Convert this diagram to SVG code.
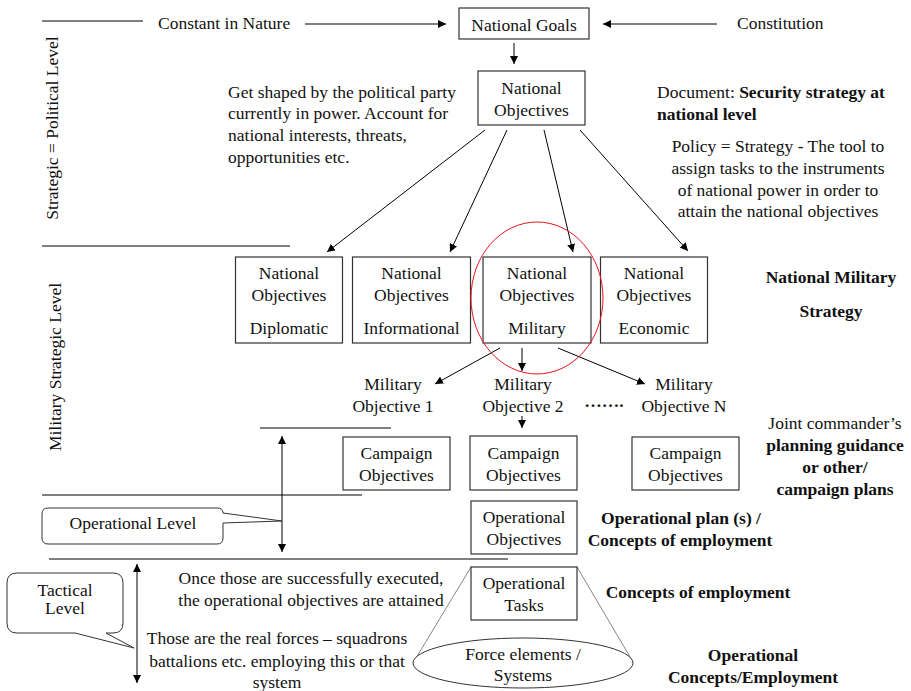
<svg xmlns="http://www.w3.org/2000/svg" width="911" height="691" viewBox="0 0 911 691">
<defs>
<marker id="ah" viewBox="0 0 10 10" refX="10" refY="5" markerWidth="8" markerHeight="8" markerUnits="userSpaceOnUse" orient="auto-start-reverse">
<path d="M0,0 L10,5 L0,10 Z" fill="#000"/>
</marker>
<style>
text{font-family:"Liberation Serif","Times New Roman",serif;font-size:17.5px;fill:#111}
.c{text-anchor:middle}
.b{font-weight:bold}
.box{fill:#fff;stroke:#333;stroke-width:1.2}
.ln{stroke:#000;stroke-width:1;fill:none}
.ar{stroke:#000;stroke-width:1;fill:none;marker-end:url(#ah)}
.thin{stroke:#666;stroke-width:0.8;fill:none}
</style>
</defs>
<rect width="911" height="691" fill="#fff"/>

<g id="level-lines">
<line class="ln" x1="42" y1="21" x2="143" y2="21"/>
<line class="ln" x1="42" y1="246" x2="290" y2="246"/>
<line class="ln" x1="260" y1="428" x2="391" y2="428"/>
<line class="ln" x1="42" y1="495" x2="362" y2="495"/>
<line class="ln" x1="49" y1="559" x2="508" y2="559"/>
</g>

<g id="connectors">
<line class="ar" x1="305" y1="24" x2="446" y2="24"/>
<line class="ar" x1="717" y1="24" x2="603" y2="24"/>
<line class="ar" x1="514" y1="43" x2="514" y2="64"/>
<line class="ar" x1="485" y1="130" x2="327" y2="252"/>
<line class="ar" x1="507" y1="130" x2="450" y2="252"/>
<line class="ar" x1="544" y1="130" x2="573" y2="252"/>
<line class="ar" x1="580" y1="130" x2="688" y2="251"/>
<line class="ar" x1="500" y1="348" x2="435" y2="384"/>
<line class="ar" x1="522" y1="348" x2="522" y2="371"/>
<line class="ar" x1="558" y1="348" x2="645" y2="384"/>
<line class="ar" x1="522" y1="416" x2="522" y2="428"/>
<line class="ln" x1="282" y1="436" x2="282" y2="552" marker-start="url(#ah)" marker-end="url(#ah)"/>
<line class="ln" x1="137" y1="564" x2="137" y2="683" marker-start="url(#ah)" marker-end="url(#ah)"/>
<line class="thin" x1="471" y1="567" x2="413" y2="663"/>
<line class="thin" x1="577" y1="567" x2="633" y2="662"/>
</g>

<g id="national-goals">
<rect class="box" x="459" y="8" width="130" height="31"/>
<text class="c" x="524" y="31">National Goals</text>
</g>
<g id="constant">
<text x="158" y="29">Constant in Nature</text>
</g>
<g id="constitution">
<text x="737" y="29">Constitution</text>
</g>

<g id="strategic-label">
<text class="c" transform="translate(58,128) rotate(-90)">Strategic = Political Level</text>
</g>
<g id="military-strategic-label">
<text class="c" transform="translate(61,367) rotate(-90)">Military Strategic Level</text>
</g>

<g id="national-objectives">
<rect class="box" x="478" y="71" width="107" height="54"/>
<text class="c" x="531.5" y="94">National</text>
<text class="c" x="531.5" y="116">Objectives</text>
</g>

<g id="shaped-note">
<text x="228" y="98">Get shaped by the political party</text>
<text x="228" y="119">currently in power. Account for</text>
<text x="228" y="141">national interests, threats,</text>
<text x="228" y="163">opportunities etc.</text>
</g>

<g id="document-note">
<text x="657" y="98">Document: <tspan class="b" font-weight="bold">Security strategy at</tspan></text>
<text x="657" y="120" font-weight="bold">national level</text>
</g>
<g id="policy-note">
<text class="c" x="778" y="152">Policy = Strategy  - The tool to</text>
<text class="c" x="778" y="174">assign tasks to the instruments</text>
<text class="c" x="778" y="196">of national power in order to</text>
<text class="c" x="778" y="217">attain the national objectives</text>
</g>

<g id="no-diplomatic">
<rect class="box" x="235.5" y="257" width="107" height="86"/>
<text class="c" x="289" y="279">National</text>
<text class="c" x="289" y="301">Objectives</text>
<text class="c" x="289" y="334">Diplomatic</text>
</g>
<g id="no-informational">
<rect class="box" x="352.5" y="257" width="118" height="86"/>
<text class="c" x="411.5" y="279">National</text>
<text class="c" x="411.5" y="301">Objectives</text>
<text class="c" x="411.5" y="334">Informational</text>
</g>
<g id="no-military">
<rect class="box" x="483" y="257" width="108" height="86"/>
<text class="c" x="537" y="279">National</text>
<text class="c" x="537" y="301">Objectives</text>
<text class="c" x="537" y="334">Military</text>
</g>
<g id="no-economic">
<rect class="box" x="600.5" y="257" width="107" height="86"/>
<text class="c" x="654" y="279">National</text>
<text class="c" x="654" y="301">Objectives</text>
<text class="c" x="654" y="334">Economic</text>
</g>
<g id="highlight">
<ellipse cx="537" cy="298" rx="66" ry="76" fill="none" stroke="#e8141a" stroke-width="1"/>
</g>

<g id="nms-label">
<text class="c b" x="831" y="283">National Military</text>
<text class="c b" x="831" y="317">Strategy</text>
</g>

<g id="mil-obj-1">
<text class="c" x="393" y="390">Military</text>
<text class="c" x="393" y="412">Objective 1</text>
</g>
<g id="mil-obj-2">
<text class="c" x="523" y="390">Military</text>
<text class="c" x="523" y="412">Objective 2</text>
</g>
<g id="dots">
<text class="c b" x="604" y="407">…….</text>
</g>
<g id="mil-obj-n">
<text class="c" x="684" y="390">Military</text>
<text class="c" x="684" y="412">Objective N</text>
</g>

<g id="campaign-1">
<rect class="box" x="343" y="437" width="107" height="53"/>
<text class="c" x="396.5" y="459">Campaign</text>
<text class="c" x="396.5" y="481">Objectives</text>
</g>
<g id="campaign-2">
<rect class="box" x="470" y="436" width="107" height="54"/>
<text class="c" x="523.5" y="459">Campaign</text>
<text class="c" x="523.5" y="481">Objectives</text>
</g>
<g id="campaign-3">
<rect class="box" x="632" y="437" width="107" height="53"/>
<text class="c" x="685.5" y="459">Campaign</text>
<text class="c" x="685.5" y="481">Objectives</text>
</g>

<g id="joint-note">
<text class="c" x="835" y="429">Joint commander’s</text>
<text class="c b" x="835" y="451">planning guidance</text>
<text class="c b" x="835" y="473">or other/</text>
<text class="c b" x="835" y="495">campaign plans</text>
</g>

<g id="operational-level">
<path d="M48,508 H217 Q223,508 223,513 L282,521 L223,523 V538 Q223,544 217,544 H48 Q42,544 42,538 V514 Q42,508 48,508 Z" fill="#fff" stroke="#333" stroke-width="1"/>
<text class="c" x="133" y="529">Operational Level</text>
</g>

<g id="operational-objectives">
<rect class="box" x="471" y="501" width="106" height="53"/>
<text class="c" x="524" y="523">Operational</text>
<text class="c" x="524" y="545">Objectives</text>
</g>
<g id="opplan-note">
<text class="c b" x="681" y="524">Operational plan (s) /</text>
<text class="c b" x="680" y="546">Concepts of employment</text>
</g>

<g id="tactical-level">
<path d="M17,573 H113 Q123,573 123,583 V623 Q123,633 113,633 H106 L134,648 L75,633 H17 Q7,633 7,623 V583 Q7,573 17,573 Z" fill="#fff" stroke="#333" stroke-width="1"/>
<text class="c" x="65" y="596">Tactical</text>
<text class="c" x="65" y="614">Level</text>
</g>

<g id="executed-note">
<text class="c" x="311" y="584">Once those are successfully executed,</text>
<text class="c" x="311" y="606">the operational objectives are attained</text>
</g>
<g id="forces-note">
<text class="c" x="277" y="644">Those are the real forces – squadrons</text>
<text class="c" x="277" y="667">battalions etc. employing this or that</text>
<text class="c" x="277" y="688">system</text>
</g>

<g id="operational-tasks">
<rect class="box" x="471" y="567" width="106" height="53"/>
<text class="c" x="524" y="589">Operational</text>
<text class="c" x="524" y="611">Tasks</text>
</g>
<g id="concepts-note">
<text class="c b" x="698" y="598">Concepts of employment</text>
</g>

<g id="force-elements">
<ellipse cx="523" cy="663" rx="110" ry="25" fill="#fff" stroke="#333" stroke-width="1"/>
<text class="c" x="523" y="660">Force elements /</text>
<text class="c" x="523" y="681">Systems</text>
</g>
<g id="op-concepts-note">
<text class="c b" x="753" y="661">Operational</text>
<text class="c b" x="753" y="683">Concepts/Employment</text>
</g>
</svg>
